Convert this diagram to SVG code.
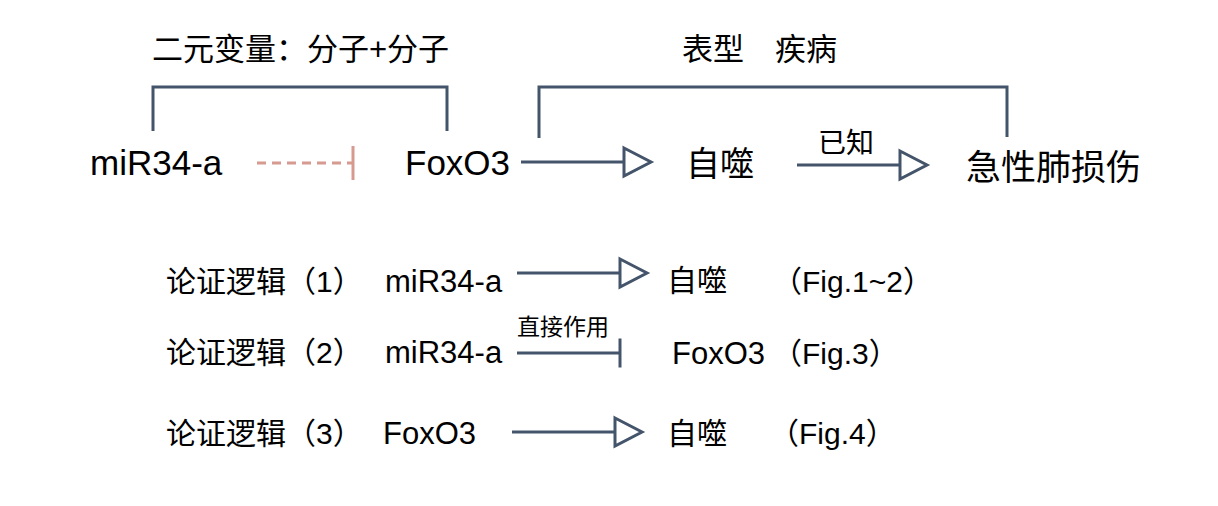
<svg xmlns="http://www.w3.org/2000/svg" width="1218" height="506" viewBox="0 0 1218 506">
<style>
.t{font-family:'Liberation Sans','Noto Sans CJK SC',sans-serif;fill:#000000}
.c{stroke:#44546a;stroke-width:3;fill:none}
.d{stroke:#d69a90;stroke-width:3;fill:none;stroke-dasharray:9 6}
</style>
<defs>
<marker id="arr" markerUnits="userSpaceOnUse" markerWidth="30" markerHeight="30" refX="0" refY="0" orient="auto" overflow="visible">
<path d="M0,-14 L27,0 L0,14 Z" fill="#ffffff" stroke="#44546a" stroke-width="3" stroke-linejoin="miter"/>
</marker>
<marker id="tee" markerUnits="userSpaceOnUse" markerWidth="4" markerHeight="30" refX="0" refY="0" orient="auto" overflow="visible">
<path d="M0,-14.5 L0,14.5" stroke="#44546a" stroke-width="3"/>
</marker>
<marker id="teeR" markerUnits="userSpaceOnUse" markerWidth="4" markerHeight="34" refX="0" refY="0" orient="auto" overflow="visible">
<path d="M0,-17 L0,17" stroke="#d69a90" stroke-width="3"/>
</marker>
</defs>
<rect width="1218" height="506" fill="#ffffff"/>
<g id="connectors">
<path class="c" d="M153,131 V87 H447 V131"/>
<path class="c" d="M539,138 V87 H1007 V137"/>
<path class="d" d="M257,163 H353" marker-end="url(#teeR)"/>
<path class="c" d="M521,162 H624" marker-end="url(#arr)"/>
<path class="c" d="M797,165 H900" marker-end="url(#arr)"/>
<path class="c" d="M517,273 H620" marker-end="url(#arr)"/>
<path class="c" d="M517,353 H620" marker-end="url(#tee)"/>
<path class="c" d="M512,432 H615" marker-end="url(#arr)"/>
</g>
<g id="labels">
<text class="t" x="152" y="60" font-size="31">二元变量：分子+分子</text>
<text class="t" x="682" y="60" font-size="31">表型　疾病</text>
<text class="t" x="818" y="153" font-size="28">已知</text>
<text class="t" x="517" y="335" font-size="23">直接作用</text>
</g>
<g id="node-mir34a"><text class="t" x="90" y="175" font-size="35">miR34-a</text></g>
<g id="node-foxo3"><text class="t" x="405" y="175" font-size="35">FoxO3</text></g>
<g id="node-autophagy"><text class="t" x="686" y="176" font-size="34">自噬</text></g>
<g id="node-ali"><text class="t" x="966" y="180" font-size="35">急性肺损伤</text></g>
<g id="row1">
<text class="t" x="166" y="292" font-size="30">论证逻辑（1）</text>
<text class="t" x="385" y="292" font-size="31">miR34-a</text>
<text class="t" x="667" y="291" font-size="30">自噬</text>
<text class="t" x="772" y="292" font-size="30">（Fig.1~2）</text>
</g>
<g id="row2">
<text class="t" x="166" y="363" font-size="30">论证逻辑（2）</text>
<text class="t" x="385" y="363" font-size="31">miR34-a</text>
<text class="t" x="672" y="364" font-size="31">FoxO3</text>
<text class="t" x="772" y="364" font-size="30">（Fig.3）</text>
</g>
<g id="row3">
<text class="t" x="166" y="444" font-size="30">论证逻辑（3）</text>
<text class="t" x="383" y="444" font-size="31">FoxO3</text>
<text class="t" x="667" y="444" font-size="30">自噬</text>
<text class="t" x="769" y="444" font-size="30">（Fig.4）</text>
</g>
</svg>
